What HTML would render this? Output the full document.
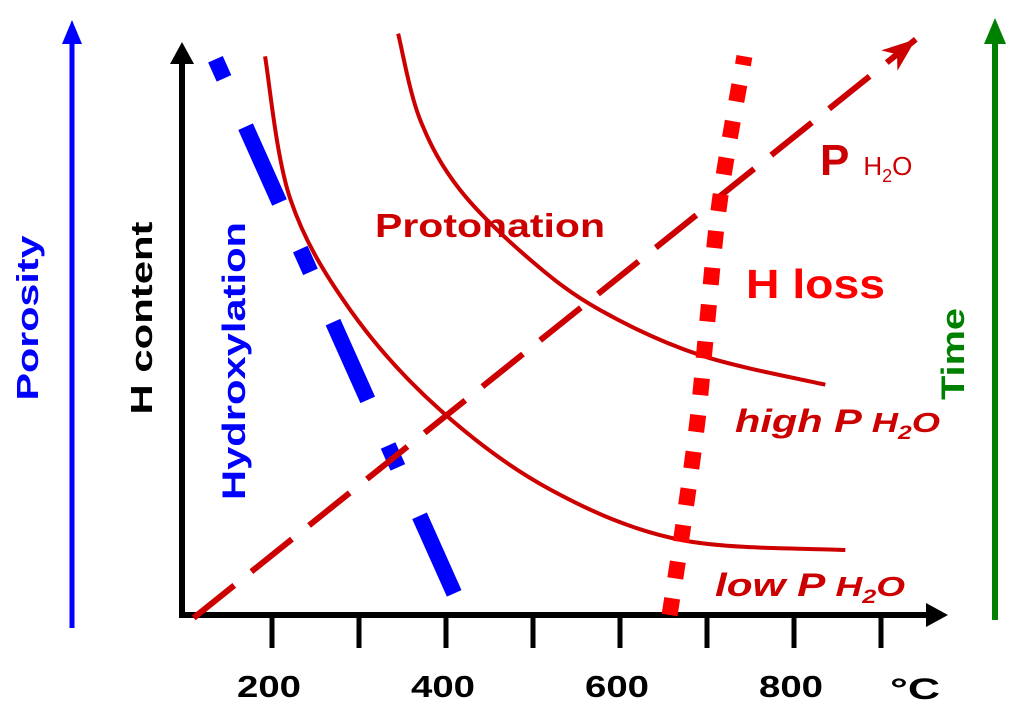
<!DOCTYPE html>
<html><head><meta charset="utf-8">
<style>html,body{margin:0;padding:0;background:#fff}svg{display:block}text{font-family:"Liberation Sans",sans-serif;font-weight:bold}</style>
</head><body>
<svg id="chart" width="1024" height="727" viewBox="0 0 1024 727">
<g id="axes">
<line x1="182" y1="618" x2="182" y2="60" stroke="#000" stroke-width="6"/>
<path d="M170,64 L182,42 L194,64 z" fill="#000"/>
<line x1="179" y1="615" x2="930" y2="615" stroke="#000" stroke-width="6"/>
<path d="M926,603 L948,615 L926,627 z" fill="#000"/>
</g>
<g id="ticks"></g>
<g id="series"></g>
<line x1="72" y1="628" x2="72" y2="40" stroke="#0000ff" stroke-width="5"/>
<path d="M62,44 L72,20 L82,44 z" fill="#0000ff"/>
<line x1="995" y1="620" x2="995" y2="40" stroke="#008000" stroke-width="6"/>
<path d="M984,44 L995,18 L1006,44 z" fill="#008000"/>
<text x="0" y="0" transform="translate(38,318) rotate(-90)" text-anchor="middle" font-size="31" fill="#0000ff" textLength="165" lengthAdjust="spacingAndGlyphs">Porosity</text>
<text x="0" y="0" transform="translate(152,318) rotate(-90)" text-anchor="middle" font-size="31" fill="#000" textLength="193" lengthAdjust="spacingAndGlyphs">H content</text>
<text x="0" y="0" transform="translate(245,361) rotate(-90)" text-anchor="middle" font-size="32" fill="#0000ff" textLength="278" lengthAdjust="spacingAndGlyphs">Hydroxylation</text>
<text x="0" y="0" transform="translate(964,354) rotate(-90)" text-anchor="middle" font-size="32" fill="#008000" textLength="92" lengthAdjust="spacingAndGlyphs">Time</text>
<text x="375" y="237" font-size="33" fill="#cc0000" textLength="230" lengthAdjust="spacingAndGlyphs">Protonation</text>
<text x="820" y="175" font-size="44" fill="#cc0000">P<tspan font-size="26" font-weight="normal" dx="14">H</tspan><tspan font-size="18" font-weight="normal" dy="7">2</tspan><tspan font-size="26" font-weight="normal" dy="-7">O</tspan></text>
<text x="746" y="298" font-size="41" fill="#ff0000" textLength="139" lengthAdjust="spacingAndGlyphs">H loss</text>
<text x="735" y="432" font-size="32" font-style="italic" fill="#cc0000" textLength="205" lengthAdjust="spacingAndGlyphs">high P <tspan font-size="28">H</tspan><tspan font-size="19" dy="7">2</tspan><tspan font-size="28" dy="-7">O</tspan></text>
<text x="715" y="596" font-size="32" font-style="italic" fill="#cc0000" textLength="190" lengthAdjust="spacingAndGlyphs">low P <tspan font-size="28">H</tspan><tspan font-size="19" dy="7">2</tspan><tspan font-size="28" dy="-7">O</tspan></text>
<text x="890" y="699" font-size="30" font-weight="normal" fill="#000" textLength="50" lengthAdjust="spacingAndGlyphs">°C</text>
</svg>
<script>
const tickValues=[200,300,400,500,600,700,800,900];
const tickLabels=[200,400,600,800];
const lowT=[192,221,290,393,520,669,859];
const lowH=[0.98,0.73,0.535,0.36,0.22,0.132,0.114];
const highT=[345,370,416,497,577,692,836];
const highH=[1.02,0.87,0.746,0.623,0.535,0.456,0.404];
const pressT=[110,940];
const pressH=[-0.005,1.01];
const lossT=[657,672,689,700,715,743];
const lossH=[0.0,0.15,0.34,0.51,0.73,0.98];
const hydT=[135,410];
const hydH=[0.975,0.036];
const xS=t=>185+(t-100)*0.87;
const yS=h=>615-h*570;
const NS='http://www.w3.org/2000/svg';
const ticks=document.getElementById('ticks');
const series=document.getElementById('series');
function el(tag,attrs,parent){const e=document.createElementNS(NS,tag);for(const k in attrs)e.setAttribute(k,attrs[k]);parent.appendChild(e);return e;}
tickValues.forEach(v=>{
 const l=el('line',{x1:xS(v),x2:xS(v),y1:615,y2:648,stroke:'#000','stroke-width':5},ticks);
 
 
});
tickLabels.forEach(v=>{
 const t=el('text',{x:xS(v)-3,y:697,'text-anchor':'middle','font-size':31,fill:'#000',textLength:64,lengthAdjust:'spacingAndGlyphs'},ticks);
 t.textContent=v;
 
 
});
function smooth(T,H){const p=T.map((t,i)=>[xS(t),yS(H[i])]);let d='M'+p[0][0]+','+p[0][1];
 for(let i=0;i<p.length-1;i++){const p0=p[i-1]||p[i],p1=p[i],p2=p[i+1],p3=p[i+2]||p2;
 d+=' C'+(p1[0]+(p2[0]-p0[0])/6)+','+(p1[1]+(p2[1]-p0[1])/6)+' '+(p2[0]-(p3[0]-p1[0])/6)+','+(p2[1]-(p3[1]-p1[1])/6)+' '+p2[0]+','+p2[1];}
 return d;}
const hyd=el('path',{d:smooth(hydT,hydH),stroke:'#0000ff','stroke-width':16,fill:'none','stroke-dasharray':'21 53 83 51 25 55 85 50 24 53 85 100'},series);


const low=el('path',{d:smooth(lowT,lowH),stroke:'#cc0000','stroke-width':4,fill:'none'},series);


const high=el('path',{d:smooth(highT,highH),stroke:'#cc0000','stroke-width':4,fill:'none'},series);


const pr=el('path',{d:smooth(pressT,pressH),stroke:'#cc0000','stroke-width':6,fill:'none','stroke-dasharray':'52 22'},series);


const x1=xS(pressT[1]),y1=yS(pressH[1]),ang=Math.atan2(y1-yS(pressH[0]),x1-xS(pressT[0]));
const ca=Math.cos(ang),sa=Math.sin(ang);
const hp=el('path',{d:`M${x1},${y1} L${x1-34*ca+13*sa},${y1-34*sa-13*ca} L${x1-24*ca},${y1-24*sa} L${x1-34*ca-13*sa},${y1-34*sa+13*ca} z`,fill:'#cc0000'},series);


const loss=el('path',{d:smooth(lossT,lossH),stroke:'#ff0000','stroke-width':16,fill:'none','stroke-dasharray':'17 20'},series);


</script>
</body></html>
